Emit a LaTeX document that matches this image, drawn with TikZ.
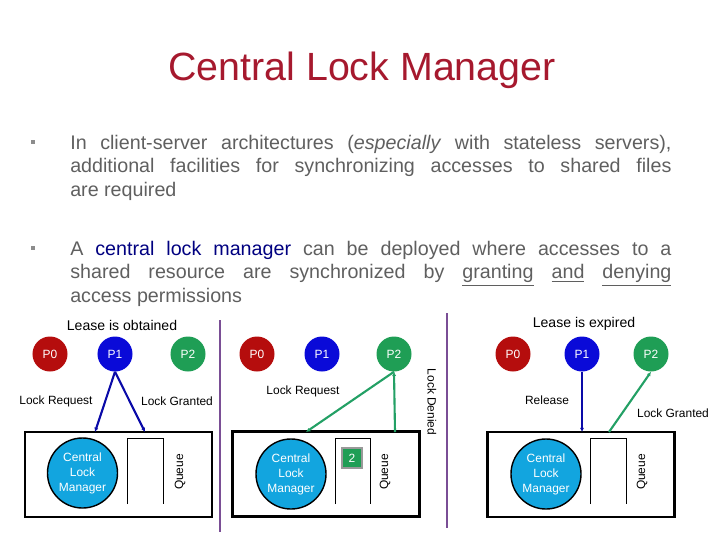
\documentclass[tikz,border=0pt]{standalone}
\usepackage{fontspec}
\setmainfont{Liberation Sans}
\usepackage{xcolor}
\usetikzlibrary{positioning,arrows.meta}
\definecolor{DEFINE_TITLE_COLOR}{HTML}{A6192E}
\definecolor{DEFINE_TXT_COLOR}{HTML}{5F5F5F}
\definecolor{DEFINE_KEY_COLOR}{HTML}{000080}
\definecolor{DEFINE_MARK_COLOR}{HTML}{8C8C8C}
\definecolor{DEFINE_P0_COLOR}{HTML}{B50D0D}
\definecolor{DEFINE_P1_COLOR}{HTML}{0A0AD8}
\definecolor{DEFINE_P2_COLOR}{HTML}{1F9E55}
\definecolor{DEFINE_CLM_COLOR}{HTML}{12A5DF}
\definecolor{DEFINE_SEP_COLOR}{HTML}{7A4E95}
\definecolor{DEFINE_BLUE_LINE}{HTML}{0A0AA8}
\definecolor{DEFINE_GREEN_LINE}{HTML}{23A065}
\tikzstyle{P0_COLOR}=[fill=DEFINE_P0_COLOR]
\tikzstyle{P1_COLOR}=[fill=DEFINE_P1_COLOR]
\tikzstyle{P2_COLOR}=[fill=DEFINE_P2_COLOR]
\tikzstyle{process} = [circle, minimum size=0.875cm, inner sep=0pt, text=white, font=\fontsize{8.5}{10}\selectfont]
\tikzstyle{clm} = [circle, draw=black, line width=1pt, fill=DEFINE_CLM_COLOR, minimum size=1.75cm, inner sep=0pt, text=white, align=center, font=\fontsize{8.5}{10.6}\selectfont]
\tikzstyle{lock_box} = [rectangle, draw=black, line width=2pt, minimum width=4.675cm, minimum height=2.125cm]
\tikzstyle{queue_line} = [draw=black, line width=0.6pt]
\tikzstyle{queue_txt} = [rotate=90, inner sep=0pt, font=\fontsize{8.5}{10}\selectfont]
\tikzstyle{token} = [rectangle, fill=DEFINE_P2_COLOR, draw=gray!80, line width=2pt, minimum size=0.5cm, inner sep=0pt, text=white, font=\fontsize{8.5}{10}\selectfont]
\tikzstyle{caption} = [inner sep=0pt, font=\fontsize{8.5}{10}\selectfont]
\tikzstyle{lease} = [inner sep=0pt, font=\fontsize{10}{12}\selectfont]
\tikzstyle{SEP_LINE} = [draw=DEFINE_SEP_COLOR, line width=1.5pt]
\tikzstyle{blue_link} = [draw=DEFINE_BLUE_LINE, line width=1.5pt, -{Latex[length=3pt,width=3pt]}]
\tikzstyle{green_link} = [draw=DEFINE_GREEN_LINE, line width=1.5pt, -{Latex[length=3pt,width=3pt]}]
\tikzstyle{bullet_txt} = [anchor=base west, inner sep=0pt, text width=15.025cm, align=justify, text=DEFINE_TXT_COLOR, font=\fontsize{14}{17}\selectfont]
\tikzstyle{bullet_mark} = [rectangle, fill=DEFINE_MARK_COLOR, minimum size=0.12cm, inner sep=0pt]

\begin{document}
\begin{tikzpicture}[x=0.025cm, y=-0.025cm]
      \useasboundingbox (0,0) rectangle (720,540);

      %%%%%%%%%%%%%%%%%%%%%%%%%%%%%%%%%%%%%%%%%%%%%%%%%
      % TITLE AND BULLETS
      %%%%%%%%%%%%%%%%%%%%%%%%%%%%%%%%%%%%%%%%%%%%%%%%%
      \node[text=DEFINE_TITLE_COLOR, font=\fontsize{28}{32}\selectfont] (TITLE) at (362,70) {Central Lock Manager};

      \node[bullet_mark] (B1) at (33,142) {};
      \node[bullet_txt] (T1) at (70,149) {In client-server architectures (\textit{especially} with stateless servers),\linebreak
            additional facilities for synchronizing accesses to shared files\linebreak are required};

      \node[bullet_mark] (B2) at (33,248) {};
      \node[bullet_txt] (T2) at (70,255) {A \textcolor{DEFINE_KEY_COLOR}{central lock manager} can be deployed where accesses to a\linebreak
            shared resource are synchronized by \underline{granting} \underline{and} \underline{denying}\linebreak access permissions};

      %%%%%%%%%%%%%%%%%%%%%%%%%%%%%%%%%%%%%%%%%%%%%%%%%
      % LEASE IS OBTAINED
      %%%%%%%%%%%%%%%%%%%%%%%%%%%%%%%%%%%%%%%%%%%%%%%%%
      \node[lease] (OBT) at (122,325) {Lease is obtained};
      \node[process, P0_COLOR] (P0a) at (50,354) {P0};
      \node[process, P1_COLOR] (P1a) at (115,354) {P1};
      \node[process, P2_COLOR] (P2a) at (188,354) {P2};
      \node[lock_box] (BOXa) at (118.5,474.5) {};
      \node[clm] (CLMa) at (82.5,473) {Central\\Lock\\Manager};
      \draw[queue_line] (127,504) |- (163,438) -- (163,504);
      \node[queue_txt] (Qa) at (180,472) {Queue};
      \node[caption] (REQa) at (56,401) {Lock Request};
      \node[caption] (GNTa) at (177,401) {Lock Granted};
      \coordinate (INa) at (95,432);
      \coordinate (OUTa) at (145,432);
      \draw[blue_link] (P1a.south) -- (INa);
      \draw[blue_link] (P1a.south) -- (OUTa);

      \draw[SEP_LINE] (220,320) -- (220,532);

      %%%%%%%%%%%%%%%%%%%%%%%%%%%%%%%%%%%%%%%%%%%%%%%%%
      % LOCK DENIED
      %%%%%%%%%%%%%%%%%%%%%%%%%%%%%%%%%%%%%%%%%%%%%%%%%
      \node[process, P0_COLOR] (P0b) at (257,354) {P0};
      \node[process, P1_COLOR] (P1b) at (322,354) {P1};
      \node[process, P2_COLOR] (P2b) at (394,354) {P2};
      \node[lock_box] (BOXb) at (326,474) {};
      \node[clm] (CLMb) at (291,474) {Central\\Lock\\Manager};
      \draw[queue_line] (335,504) |- (370,438) -- (370,504);
      \node[token] (TOK) at (352,458) {2};
      \node[queue_txt] (Qb) at (385,472) {Queue};
      \node[caption] (REQb) at (303,391) {Lock Request};
      \node[caption, rotate=-90] (DENb) at (432,402) {Lock Denied};
      \coordinate (INb) at (306,432);
      \coordinate (OUTb) at (395,432);
      \draw[green_link] (P2b.south) -- (INb);
      \draw[green_link] (OUTb) -- (P2b.south);

      \draw[SEP_LINE] (447,313) -- (447,528);

      %%%%%%%%%%%%%%%%%%%%%%%%%%%%%%%%%%%%%%%%%%%%%%%%%
      % LEASE IS EXPIRED
      %%%%%%%%%%%%%%%%%%%%%%%%%%%%%%%%%%%%%%%%%%%%%%%%%
      \node[lease] (EXP) at (584,324) {Lease is expired};
      \node[process, P0_COLOR] (P0c) at (513,354) {P0};
      \node[process, P1_COLOR] (P1c) at (582,354) {P1};
      \node[process, P2_COLOR] (P2c) at (651,354) {P2};
      \node[lock_box] (BOXc) at (581,474.5) {};
      \node[clm] (CLMc) at (546,474) {Central\\Lock\\Manager};
      \draw[queue_line] (590,504) |- (626,438) -- (626,504);
      \node[queue_txt] (Qc) at (642,472) {Queue};
      \node[caption] (RELc) at (547,400) {Release};
      \node[caption] (GNTc) at (673,413) {Lock Granted};
      \coordinate (INc) at (582,432);
      \coordinate (OUTc) at (609,432);
      \draw[blue_link] (P1c.south) -- (INc);
      \draw[green_link] (OUTc) -- (P2c.south);

\end{tikzpicture}
\end{document}
